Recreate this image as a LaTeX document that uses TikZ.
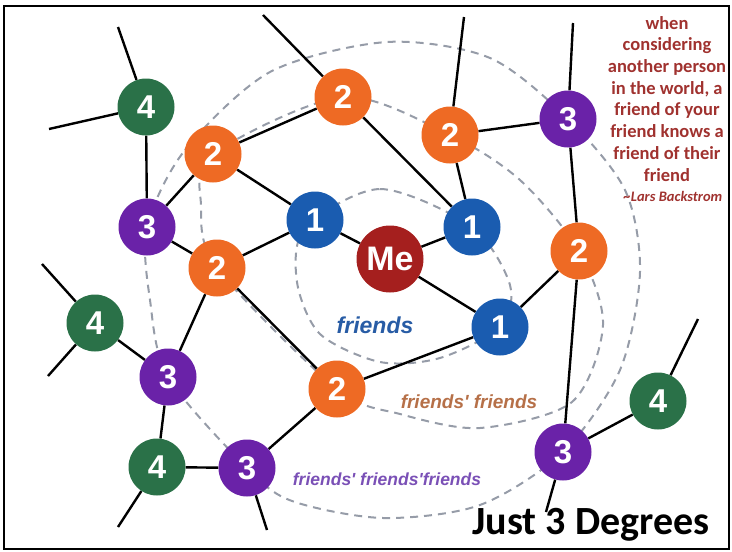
\documentclass[tikz,border=0pt]{standalone}
\usepackage{fontspec}
\usetikzlibrary{backgrounds}
\newfontfamily\digitfont{Liberation Sans}
\newfontfamily\quotefont{Carlito}
\definecolor{meRed}{RGB}{165,31,30}
\definecolor{oneBlue}{RGB}{26,92,176}
\definecolor{twoOrange}{RGB}{238,106,36}
\definecolor{threePurple}{RGB}{106,34,168}
\definecolor{fourGreen}{RGB}{42,113,72}
\definecolor{ringGrey}{RGB}{150,156,168}
\definecolor{quoteRed}{RGB}{160,50,47}
\definecolor{lblBlue}{RGB}{40,92,165}
\definecolor{lblBrown}{RGB}{182,112,72}
\definecolor{lblPurple}{RGB}{122,80,182}
\begin{document}
\begin{tikzpicture}[x=1pt,y=-1pt]
    \tikzset{
        person/.style={circle, draw=none, minimum size=57pt, inner sep=0pt, text=white,
            font=\digitfont\bfseries\fontsize{33}{33}\selectfont},
        link/.style={line width=2.4pt, black},
        ring/.style={draw=ringGrey, line width=2pt, dash pattern=on 8pt off 6pt},
        circlelabel/.style={anchor=base, inner sep=0pt, font=\digitfont\bfseries\itshape}
    }
    \useasboundingbox (0,0) rectangle (732,552);
    \draw[line width=2.2pt] (4,6) rectangle (729,549);

    % me and friends
    \draw node[person, fill=meRed, minimum size=67pt, font=\digitfont\bfseries\fontsize{34}{34}\selectfont] (me) at (390,259) {Me};
    \draw node[person, fill=oneBlue] (f1) at (315,220) {1};
    \draw node[person, fill=oneBlue] (f2) at (472,227) {1};
    \draw node[person, fill=oneBlue] (f3) at (500,327) {1};
    % friends' friends
    \draw node[person, fill=twoOrange] (ff1) at (213,154) {2};
    \draw node[person, fill=twoOrange] (ff2) at (343,97) {2};
    \draw node[person, fill=twoOrange] (ff3) at (450,135) {2};
    \draw node[person, fill=twoOrange] (ff4) at (579,251) {2};
    \draw node[person, fill=twoOrange] (ff5) at (337,389) {2};
    \draw node[person, fill=twoOrange] (ff6) at (217,268) {2};
    % friends' friends' friends
    \draw node[person, fill=threePurple] (fff1) at (147,227) {3};
    \draw node[person, fill=threePurple] (fff2) at (568,119) {3};
    \draw node[person, fill=threePurple] (fff3) at (168,377) {3};
    \draw node[person, fill=threePurple] (fff4) at (247,468) {3};
    \draw node[person, fill=threePurple] (fff5) at (563,452) {3};
    % one step further
    \draw node[person, fill=fourGreen] (far1) at (146,107) {4};
    \draw node[person, fill=fourGreen] (far2) at (95,323) {4};
    \draw node[person, fill=fourGreen] (far3) at (157,467) {4};
    \draw node[person, fill=fourGreen] (far4) at (658,401) {4};

    % loose ends
    \coordinate (t1) at (118,27);
    \coordinate (t2) at (49,129);
    \coordinate (t3) at (263,15);
    \coordinate (t4) at (464,17);
    \coordinate (t5) at (573,23);
    \coordinate (t6) at (42,264);
    \coordinate (t7) at (48,376);
    \coordinate (t8) at (118,527);
    \coordinate (t9) at (267,530);
    \coordinate (t10) at (546,512);
    \coordinate (t11) at (698,319);

    \begin{scope}[on background layer]
        \draw[ring] plot[smooth cycle] coordinates {(305,228) (380,189) (f2.center) (510,285)
            (f3.center) (440,358) (380,362) (320,334) (297,282)};
        \draw[ring] plot[smooth cycle] coordinates {(ff1.center) (ff2.center) (ff3.center) (520,180)
            (ff4.center) (603,325) (572,402) (480,428) (400,414) (ff5.center) (ff6.center) (201,205)};
        \draw[ring] plot[smooth cycle] coordinates {(fff1.center) (185,150) (270,72) (387,42) (490,58)
            (fff2.center) (625,190) (640,272) (620,370) (fff5.center) (480,505) (383,518) (292,501)
            (fff4.center) (fff3.center) (150,300)};
        \foreach \x/\y in {%
            me/f1,me/f2,me/f3,f1/ff1,f1/ff6,ff1/fff1,ff1/ff2,ff2/f2,ff2/t3,ff3/f2,ff3/fff2,ff3/t4,%
            fff2/t5,fff2/ff4,ff4/f3,ff4/fff5,f3/ff5,ff6/ff5,ff5/fff4,ff6/fff1,ff6/fff3,%
            fff1/far1,far1/t1,far1/t2,fff3/far2,fff3/far3,far2/t6,far2/t7,%
            far3/fff4,far3/t8,fff4/t9,fff5/far4,fff5/t10,far4/t11%
        }
        {
            \draw[link] (\x) -- (\y);
        }
    \end{scope}

    \node[circlelabel, text=lblBlue, font=\digitfont\bfseries\itshape\fontsize{23}{23}\selectfont] (lblf) at (375,333) {friends};
    \node[circlelabel, text=lblBrown, font=\digitfont\bfseries\itshape\fontsize{19}{19}\selectfont] (lblff) at (469,408) {friends' friends};
    \node[circlelabel, text=lblPurple, font=\digitfont\bfseries\itshape\fontsize{17.5}{17.5}\selectfont] (lblfff) at (387,485) {friends' friends'friends};

    \node[anchor=north, inner sep=0pt, align=center, text=quoteRed,
        font=\quotefont\bfseries\fontsize{18.5}{21.7}\selectfont] (quote) at (667,16)
        {when\\considering\\another person\\in the world, a\\friend of your\\friend knows a\\friend of their\\friend};
    \node[anchor=base, inner sep=0pt, text=quoteRed, font=\quotefont\bfseries\itshape\fontsize{14.5}{14.5}\selectfont]
        (author) at (673,201) {\textasciitilde Lars Backstrom};
    \node[anchor=base, inner sep=0pt, font=\quotefont\bfseries\fontsize{40}{40}\selectfont] (title) at (591,534) {Just 3 Degrees};
\end{tikzpicture}
\end{document}
